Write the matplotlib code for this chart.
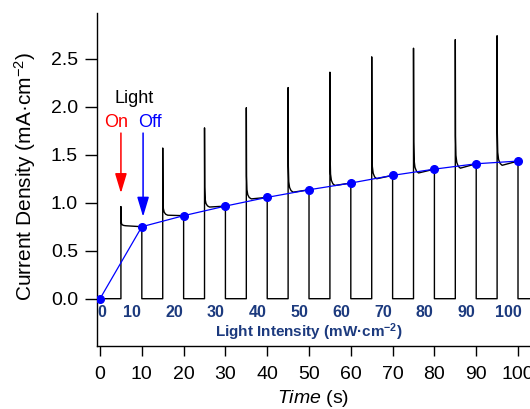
"""Photocurrent response under chopped light of increasing intensity."""

import matplotlib

matplotlib.use("Agg")
import matplotlib.pyplot as plt
import numpy as np

# light intensity steps (mW cm^-2) and steady photocurrent at each (mA cm^-2)
intensity = [0, 10, 20, 30, 40, 50, 60, 70, 80, 90, 100]
steady_current = [0.0, 0.75, 0.865, 0.965, 1.056, 1.135, 1.205, 1.285, 1.35, 1.406, 1.434]

# chopped-light transient: light on / off times (s)
on_times = [5, 15, 25, 35, 45, 55, 65, 75, 85, 95]
off_times = [10, 20, 30, 40, 50, 60, 70, 80, 90, 100]
spike_peaks = [0.96, 1.57, 1.78, 1.99, 2.20, 2.36, 2.52, 2.61, 2.70, 2.74]
plateau_start = [0.76, 0.87, 0.955, 1.04, 1.11, 1.18, 1.25, 1.31, 1.36, 1.39]
plateau_end = steady_current[1:]
trace_end = 103

time_ticks = [0, 10, 20, 30, 40, 50, 60, 70, 80, 90, 100]
current_ticks = [0.0, 0.5, 1.0, 1.5, 2.0, 2.5]

# shape of the decay after each spike (seconds after light-on, fraction of overshoot left)
decay_dt = [0.0, 0.05, 0.15, 0.35, 0.7, 1.2]
decay_frac = [1.0, 0.25, 0.1, 0.045, 0.015, 0.0]

NAVY = "#1C3A7E"

plt.rcParams.update({
    "font.family": ["Liberation Sans", "DejaVu Sans"],
    "font.size": 14,
    "mathtext.fontset": "custom",
    "mathtext.rm": "Liberation Sans",
    "mathtext.it": "Liberation Sans:italic",
    "mathtext.bf": "Liberation Sans:bold",
})


def build_trace():
    t, j = [0.0], [0.0]
    for t_on, t_off, peak, p0, p1 in zip(on_times, off_times, spike_peaks, plateau_start, plateau_end):
        t += [t_on]
        j += [0.0]
        for dt, frac in zip(decay_dt, decay_frac):
            t.append(t_on + dt)
            j.append(p0 + (peak - p0) * frac)
        t += [t_off, t_off]
        j += [p1, 0.0]
    t.append(trace_end)
    j.append(0.0)
    return t, j


fig = plt.figure(figsize=(5.3, 4.09), dpi=100)
ax = fig.add_axes([0.1825, 0.154, 0.8175, 0.814])

t, j = build_trace()
ax.plot(t, j, color="black", lw=1.0, zorder=2)
ax.plot(intensity, steady_current, color="blue", lw=0.9, marker="o", ms=5.5, zorder=3)

ax.set_xlim(-0.79, 102.87)
ax.set_ylim(-0.493, 2.976)
ax.set_xticks(time_ticks)
ax.set_yticks(current_ticks)
ax.set_yticklabels([f"{v:.1f}" for v in current_ticks])
ax.spines[["top", "right"]].set_visible(False)
for side in ("left", "bottom"):
    ax.spines[side].set_linewidth(1.0)
ax.tick_params(axis="y", length=8.4, width=1.0, pad=5, labelsize=14)
ax.tick_params(axis="x", length=7.5, width=1.0, pad=7, labelsize=14)

ax.set_ylabel("Current Density (mA·cm$^{-2}$)", fontsize=15)
ax.yaxis.set_label_coords(-0.136, 0.509)
ax.set_xlabel("$\\mathit{Time}$ (s)", fontsize=14)
ax.xaxis.set_label_coords(0.5, -0.125)

# inner light-intensity scale
for value in intensity:
    xpos = 0.5 if value == 0 else value - 2.3
    ax.text(xpos, -0.149, str(value), color=NAVY, fontsize=11.5, fontweight="bold",
            ha="center", va="center")
ax.text(50, -0.354, "Light Intensity (mW·cm$^{\\mathbf{-2}}$)", color=NAVY, fontsize=11,
        fontweight="bold", ha="center", va="center")

# light on / off annotation
ax.text(8.1, 2.09, "Light", fontsize=13, ha="center", va="center")
ax.text(3.75, 1.84, "On", fontsize=13, color="red", ha="center", va="center")
ax.text(11.96, 1.84, "Off", fontsize=13, color="blue", ha="center", va="center")
arrow = "-|>,head_length=1.2,head_width=0.36"
ax.annotate("", xy=(on_times[0], 1.10), xytext=(on_times[0], 1.726),
            arrowprops=dict(arrowstyle=arrow, mutation_scale=10, color="red", lw=1.1,
                            shrinkA=0, shrinkB=0))
ax.annotate("", xy=(off_times[0] + 0.3, 0.854), xytext=(off_times[0] + 0.3, 1.726),
            arrowprops=dict(arrowstyle=arrow, mutation_scale=10, color="blue", lw=1.1,
                            shrinkA=0, shrinkB=0))

fig.savefig("out.png", dpi=100)
plt.close(fig)
